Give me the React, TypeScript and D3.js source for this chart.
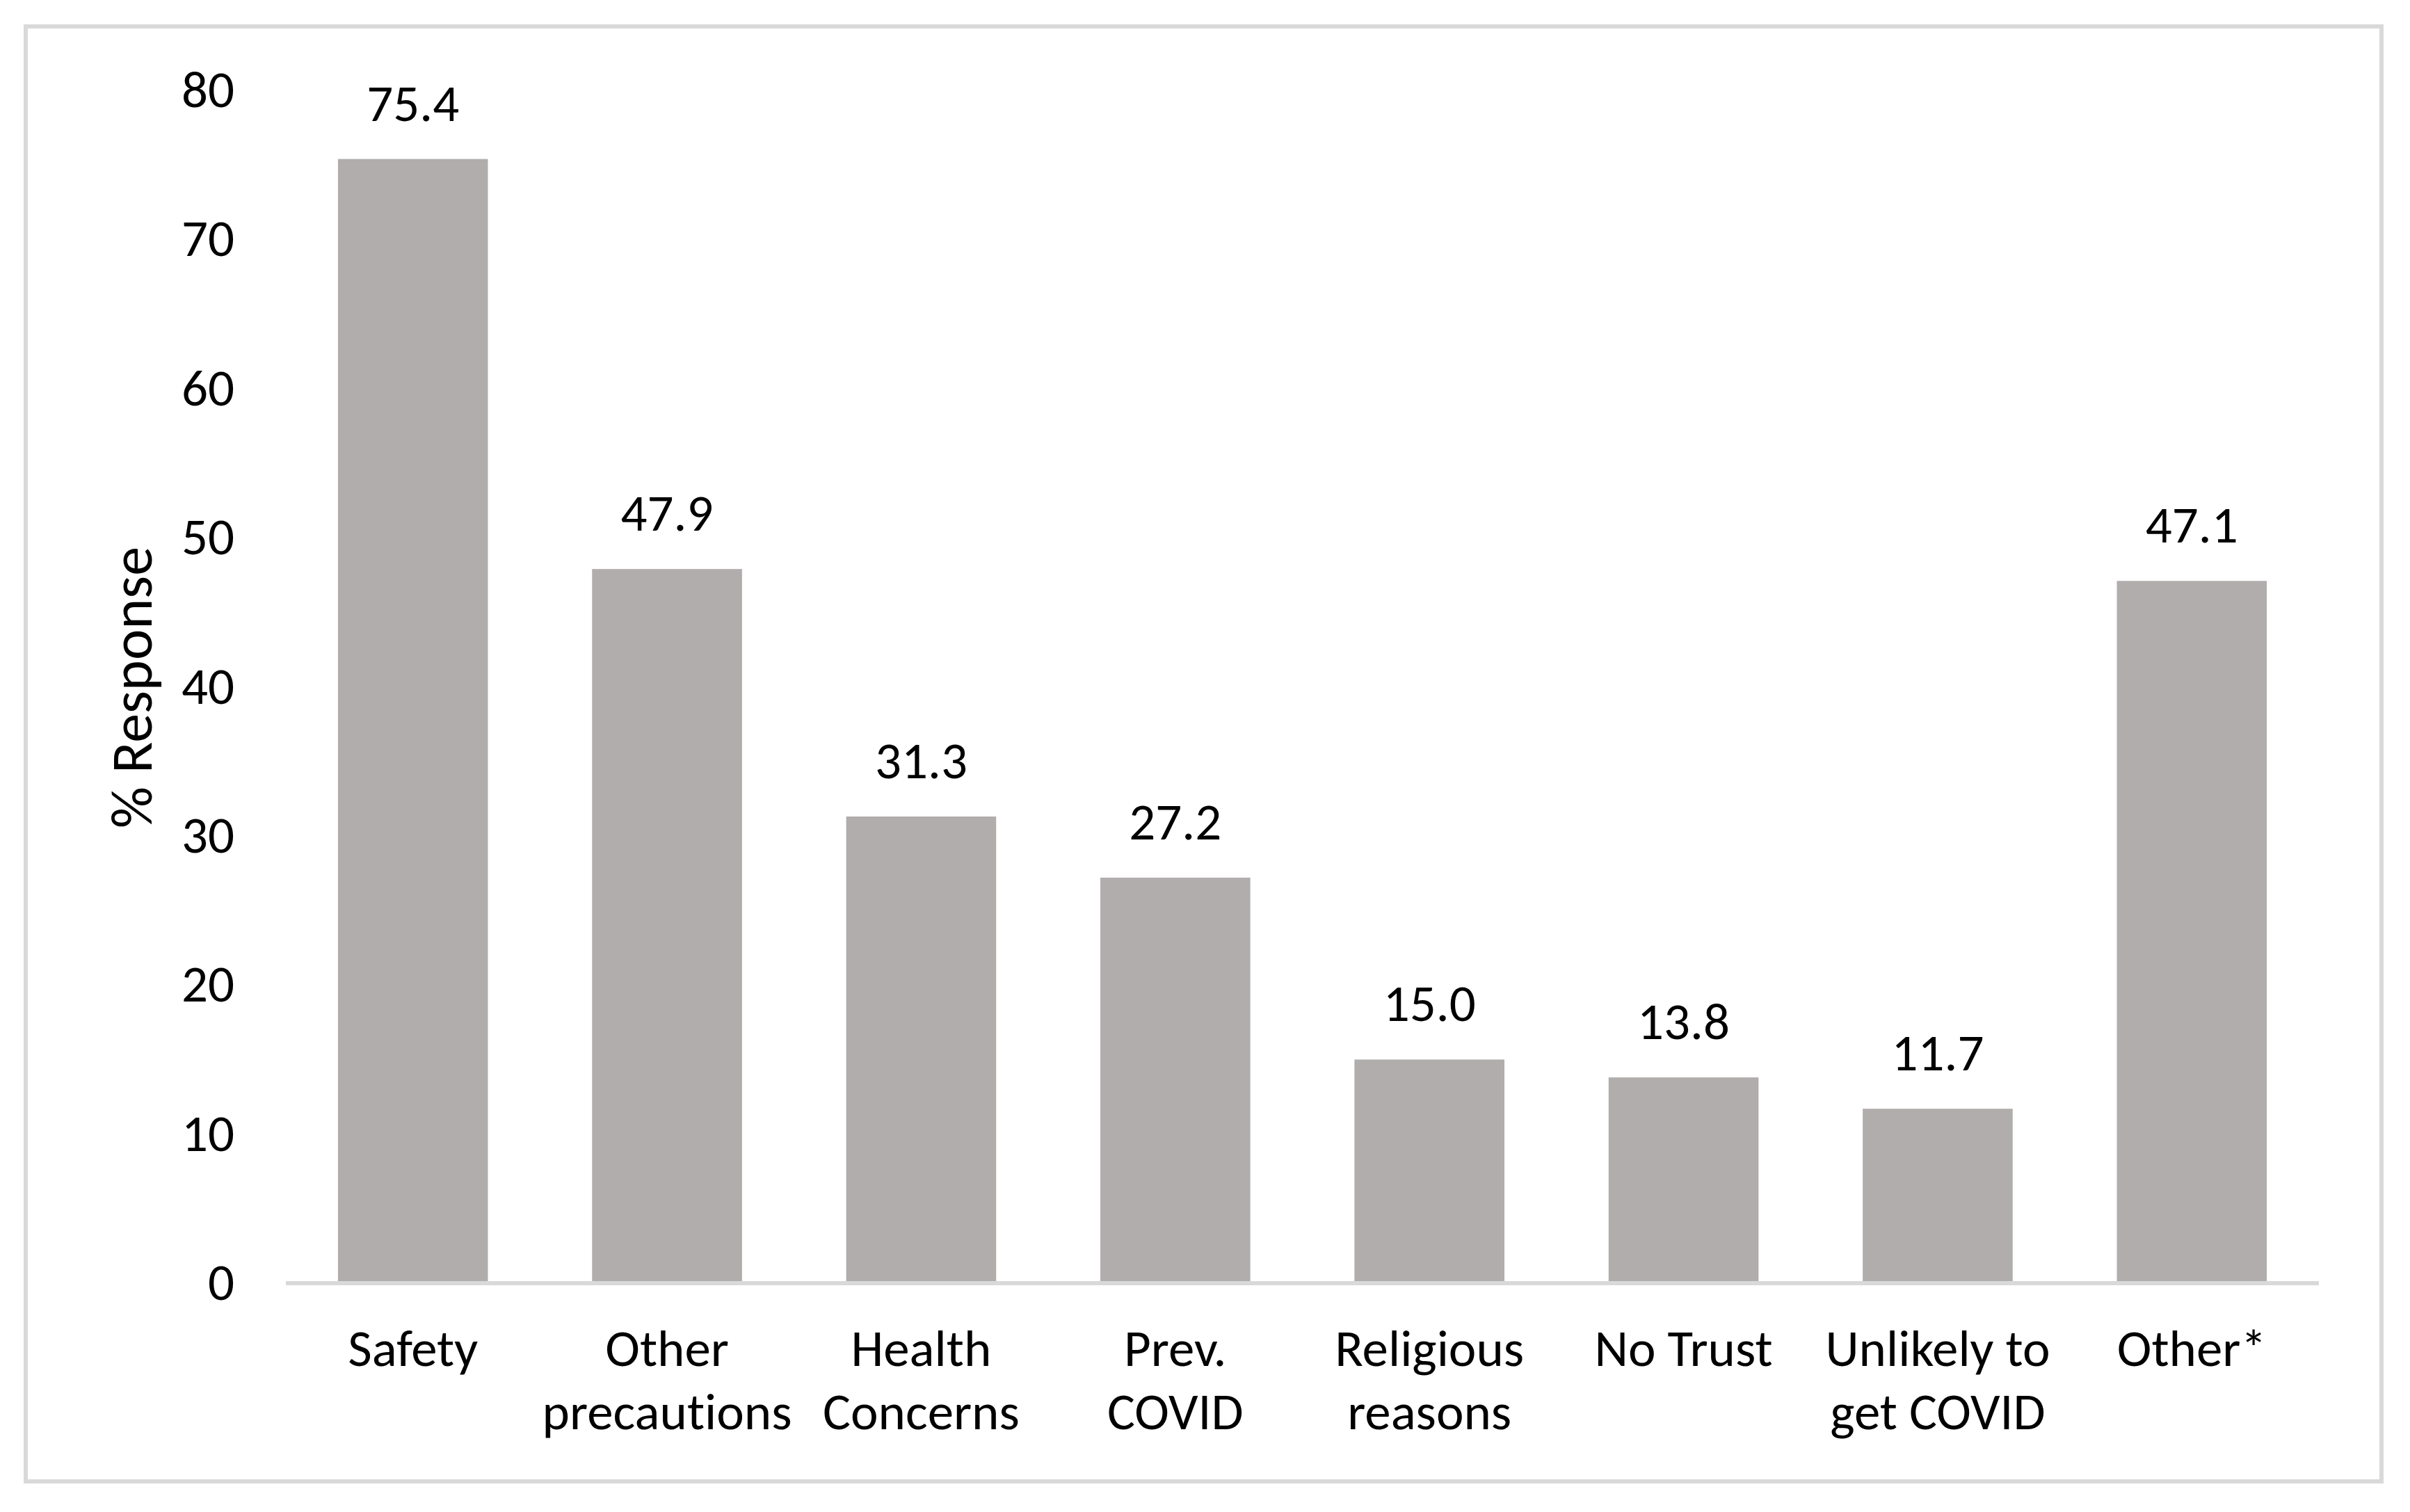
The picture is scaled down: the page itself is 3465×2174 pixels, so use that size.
import React, { useEffect, useRef } from 'react';
import * as d3 from 'd3';

// categories (each entry is the lines of the x label)
const categories: string[][] = [
  ['Safety'],
  ['Other', 'precautions'],
  ['Health', 'Concerns'],
  ['Prev.', 'COVID'],
  ['Religious', 'reasons'],
  ['No Trust'],
  ['Unlikely to', 'get COVID'],
  ['Other*'],
];
const responses: number[] = [75.4, 47.9, 31.3, 27.2, 15.0, 13.8, 11.7, 47.1];
const yTicks: number[] = [0, 10, 20, 30, 40, 50, 60, 70, 80];

const WIDTH = 3465;
const HEIGHT = 2174;
const FONT = "Carlito, Calibri, 'Open Sans', sans-serif";

const App: React.FC = () => {
  const svgRef = useRef<SVGSVGElement>(null);

  useEffect(() => {
    document.body.style.margin = '0';
    if (!svgRef.current) return;
    const svg = d3.select(svgRef.current);
    svg.selectAll('*').remove();

    // plot area
    const left = 411, right = 3334, top = 130, bottom = 1845;

    const x = d3.scaleBand<number>()
      .domain(d3.range(categories.length))
      .range([left, right])
      .paddingInner(0.41)
      .paddingOuter(0.205);

    const y = d3.scaleLinear().domain([0, 80]).range([bottom, top]);

    svg.append('rect')
      .attr('width', WIDTH).attr('height', HEIGHT).attr('fill', '#fff');

    // chart border
    svg.append('rect')
      .attr('x', 37).attr('y', 38)
      .attr('width', 3424 - 37).attr('height', 2130 - 38)
      .attr('fill', 'none')
      .attr('stroke', '#d9d9d9')
      .attr('stroke-width', 6);

    // bars
    svg.selectAll('.bar')
      .data(responses)
      .enter()
      .append('rect')
      .attr('class', 'bar')
      .attr('x', (d, i) => x(i) ?? 0)
      .attr('y', d => y(d))
      .attr('width', x.bandwidth())
      .attr('height', d => bottom - y(d))
      .attr('fill', '#b0adac');

    // baseline
    svg.append('line')
      .attr('x1', left).attr('x2', right)
      .attr('y1', bottom).attr('y2', bottom)
      .attr('stroke', '#d9d9d9')
      .attr('stroke-width', 6);

    const txt = (sel: any, size: number) =>
      sel.style('font-family', FONT)
        .style('font-size', `${size}px`)
        .style('font-variant-ligatures', 'none')
        .attr('fill', '#000');

    // y tick labels
    txt(svg.selectAll('.ytick')
      .data(yTicks)
      .enter()
      .append('text')
      .attr('x', 337)
      .attr('y', d => y(d) + 24)
      .attr('text-anchor', 'end'), 75)
      .text((d: number) => d);

    // value labels
    txt(svg.selectAll('.val')
      .data(responses)
      .enter()
      .append('text')
      .attr('x', (d, i) => (x(i) ?? 0) + x.bandwidth() / 2)
      .attr('y', d => y(d) - 55)
      .attr('text-anchor', 'middle'), 75)
      .text((d: number) => d.toFixed(1));

    // category labels
    const cat = txt(svg.selectAll('.cat')
      .data(categories)
      .enter()
      .append('text')
      .attr('text-anchor', 'middle'), 75);
    cat.each(function (this: SVGTextElement, lines: string[], i: number) {
      const cx = (x(i) ?? 0) + x.bandwidth() / 2;
      d3.select(this).selectAll('tspan')
        .data(lines)
        .enter()
        .append('tspan')
        .attr('x', cx)
        .attr('y', (l, j) => 1964 + j * 91)
        .text(l => l);
    });

    // y axis title
    txt(svg.append('text')
      .attr('transform', `translate(218, ${(top + bottom) / 2 + 1}) rotate(-90)`)
      .attr('text-anchor', 'middle'), 84)
      .text('% Response');
  }, []);

  return (
    <svg
      ref={svgRef}
      width={WIDTH}
      height={HEIGHT}
      viewBox={`0 0 ${WIDTH} ${HEIGHT}`}
      style={{ display: 'block' }}
    />
  );
};

export default App;
